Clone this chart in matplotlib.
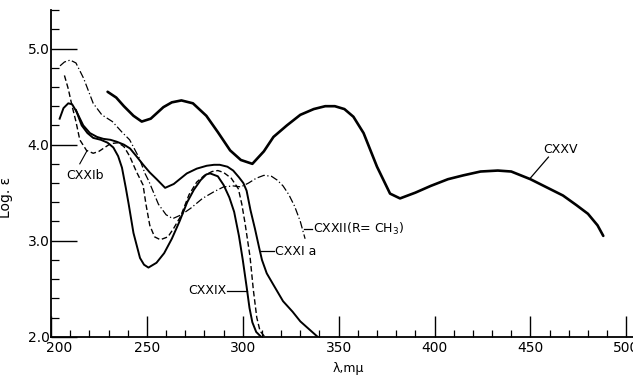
import numpy as np
import matplotlib
matplotlib.use("Agg")
import matplotlib.pyplot as plt
import matplotlib.transforms as mtransforms
from matplotlib.ticker import MultipleLocator

# absorption spectra, wavelength (m-mu) vs log epsilon
cxxv_wl = [229.5, 234, 238, 243, 247.3, 252, 258.6, 263, 268, 274, 281, 287, 293.4, 299, 305,
           311, 316, 323, 330, 337, 343, 348, 353, 357.7, 363, 370, 376.8, 382, 390, 398, 407,
           415, 424, 433, 440, 450, 459, 467, 474, 480, 485, 488]
cxxv_v = [4.55, 4.49, 4.40, 4.30, 4.24, 4.27, 4.39, 4.44, 4.46, 4.43, 4.30, 4.13, 3.94, 3.84, 3.80,
          3.93, 4.08, 4.20, 4.31, 4.37, 4.40, 4.40, 4.37, 4.29, 4.12, 3.77, 3.49, 3.44, 3.50, 3.57, 3.64,
          3.68, 3.72, 3.73, 3.72, 3.64, 3.55, 3.47, 3.37, 3.28, 3.16, 3.05]

cxxii_wl = [204.7, 207, 210, 213, 217, 222, 226.5, 232, 237, 241, 246, 249, 251, 256, 260, 263.5,
            268, 273, 279, 285, 290, 295, 299, 303, 307, 311, 315, 318, 321, 324, 327, 330, 332.5]
cxxii_v = [4.82, 4.86, 4.88, 4.85, 4.69, 4.43, 4.31, 4.24, 4.13, 4.05, 3.86, 3.70, 3.62, 3.38, 3.27, 3.23,
           3.27, 3.34, 3.44, 3.51, 3.56, 3.57, 3.56, 3.60, 3.65, 3.68, 3.67, 3.63, 3.57, 3.48, 3.36, 3.20, 3.02]

cxxib_wl = [207, 209, 211, 213, 215, 218.5, 222, 225, 228, 231, 235, 238, 241, 244.5, 248, 249.5,
            251.5, 254, 257, 261, 264, 267.5, 272, 276, 280, 284, 287, 290, 294, 297.7, 299.5, 301.2,
            303.8, 305.5, 307.3, 309, 311.5]
cxxib_v = [4.72, 4.58, 4.40, 4.24, 4.05, 3.94, 3.91, 3.93, 3.97, 4.01, 4.02, 3.98, 3.88, 3.72, 3.58, 3.38,
           3.16, 3.04, 3.01, 3.04, 3.13, 3.25, 3.48, 3.61, 3.68, 3.72, 3.73, 3.71, 3.65, 3.54, 3.38, 3.18,
           2.83, 2.49, 2.20, 2.06, 2.0]

cxxia_wl = [204.5, 206.5, 209, 211, 213.4, 216.8, 220.3, 224, 227.3, 231, 234.3, 238, 241.2, 244.5,
            248.1, 251.5, 255.1, 259.5, 264, 270.8, 276, 281.2, 285, 288, 292, 295, 298, 300.3, 302,
            304, 306.4, 308.5, 310, 312.5, 316, 321, 326, 330, 334.5, 339]
cxxia_v = [4.27, 4.38, 4.43, 4.42, 4.34, 4.20, 4.12, 4.08, 4.06, 4.05, 4.03, 4.00, 3.96, 3.88,
           3.79, 3.71, 3.64, 3.55, 3.59, 3.70, 3.75, 3.78, 3.79, 3.79, 3.77, 3.73, 3.66, 3.60, 3.52,
           3.32, 3.12, 2.93, 2.80, 2.66, 2.54, 2.37, 2.26, 2.16, 2.08, 2.0]

cxxix_wl = [213, 216, 219, 222, 226, 229.5, 232.5, 235, 237, 239, 240.5, 243, 246.4, 248.5, 250.8,
            255, 259, 263, 267, 271, 274.5, 278, 281, 283, 287, 290, 293, 295.5, 298, 300, 302,
            303.5, 305, 307, 309.5]
cxxix_v = [4.36, 4.20, 4.12, 4.07, 4.05, 4.02, 3.97, 3.88, 3.76, 3.55, 3.38, 3.08, 2.82, 2.75, 2.72,
           2.77, 2.87, 3.02, 3.20, 3.40, 3.53, 3.63, 3.69, 3.70, 3.67, 3.58, 3.45, 3.30, 3.05, 2.80, 2.52,
           2.30, 2.15, 2.05, 2.0]

fig = plt.figure(figsize=(6.33, 3.75), dpi=100)
ax = fig.add_axes([0.0806, 0.102, 0.9194, 0.871])

ax.plot(cxxv_wl, cxxv_v, color="black", lw=1.9, solid_capstyle="round")
ax.plot(cxxia_wl, cxxia_v, color="black", lw=1.4)
ax.plot(cxxix_wl, cxxix_v, color="black", lw=1.4)
ax.plot(cxxib_wl, cxxib_v, color="black", lw=1.0, dashes=(4, 2))
ax.plot(cxxii_wl, cxxii_v, color="black", lw=0.9, dashes=(6, 2, 1, 2))

# labels with leader lines
fs = 9
ax.text(217.7, 3.68, "CXXIb", fontsize=fs, ha="center", va="center")
ax.plot([215, 218.6], [3.80, 3.93], color="black", lw=0.8)
ax.text(291.4, 2.48, "CXXIX", fontsize=fs, ha="right", va="center")
ax.plot([291.8, 302.2], [2.48, 2.48], color="black", lw=0.9)
ax.text(316.8, 2.89, "CXXI a", fontsize=fs, ha="left", va="center")
ax.plot([309.3, 316.3], [2.89, 2.89], color="black", lw=0.9)
ax.text(336.8, 3.12, "CXXII(R= CH$_3$)", fontsize=fs, ha="left", va="center")
ax.plot([331.8, 336.3], [3.12, 3.12], color="black", lw=0.9)
ax.text(465.5, 3.95, "CXXV", fontsize=fs, ha="center", va="center")
ax.plot([459.4, 449.9], [3.87, 3.65], color="black", lw=0.9)

ax.set_xlim(200, 503.5)
ax.set_ylim(2.0, 5.4)
ax.spines["top"].set_visible(False)
ax.spines["right"].set_visible(False)
ax.spines["left"].set_linewidth(1.3)
ax.spines["bottom"].set_linewidth(1.3)

ax.xaxis.set_minor_locator(MultipleLocator(10))
ax.yaxis.set_minor_locator(MultipleLocator(0.2))
ax.set_xticks([200, 250, 300, 350, 400, 450, 500])
ax.set_yticks([2, 3, 4, 5])
ax.set_yticklabels(["2.0", "3.0", "4.0", "5.0"])
ax.tick_params(axis="x", which="major", direction="in", length=15, width=1.0, labelsize=10, pad=3)
ax.tick_params(axis="x", which="minor", direction="in", length=5, width=0.9)
ax.tick_params(axis="y", which="major", direction="in", length=19, width=1.0, labelsize=10, pad=1)
ax.tick_params(axis="y", which="minor", direction="in", length=6, width=0.9)

# the "200" label sits a little right of the corner in the original
first = ax.get_xticklabels()[0]
first.set_transform(first.get_transform() + mtransforms.ScaledTranslation(8 / 100, 0, fig.dpi_scale_trans))

ax.set_xlabel("λ,mμ", fontsize=fs)
ax.xaxis.set_label_coords(0.51, -0.077)
ax.set_ylabel("Log. ε", fontsize=10)
ax.yaxis.set_label_coords(-0.065, 0.428)

fig.savefig("out.png", dpi=100)
